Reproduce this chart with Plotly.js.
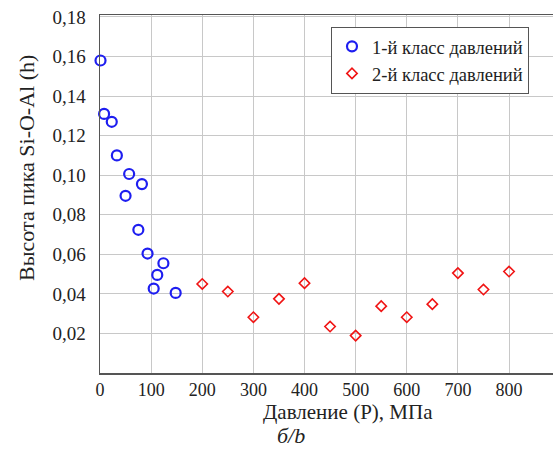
<!DOCTYPE html>
<html>
<head>
<meta charset="utf-8">
<script src="https://cdn.plot.ly/plotly-3.0.1.min.js"></script>
<style>html,body{margin:0;padding:0;background:#fff;}#chart{width:553px;height:450px;}</style>
</head>
<body>
<div id="chart"></div>
<script>
// Class 1 pressures (MPa) and peak heights
const class1Pressure = [1, 8, 23, 33, 50, 57, 75, 82, 93, 105, 112, 124, 148];
const class1Height   = [0.158, 0.131, 0.127, 0.110, 0.0896, 0.1006, 0.0724, 0.0955, 0.0604, 0.0427, 0.0496, 0.0555, 0.0405];
// Class 2 pressures (MPa) and peak heights
const class2Pressure = [200, 250, 300, 350, 400, 450, 500, 550, 600, 650, 700, 750, 800];
const class2Height   = [0.0450, 0.0412, 0.0282, 0.0375, 0.0454, 0.0235, 0.0189, 0.0338, 0.0282, 0.0348, 0.0505, 0.0422, 0.0513];

const seriesNames = ["1-й класс давлений", "2-й класс давлений"];
const xTickVals = [0, 100, 200, 300, 400, 500, 600, 700, 800];
const yTickVals = [0.02, 0.04, 0.06, 0.08, 0.10, 0.12, 0.14, 0.16, 0.18];
const xTitle = "Давление (Р), МПа";
const yTitle = "Высота пика Si-O-Al (h)";
const caption = "б/b";

const serif = "'Liberation Serif', 'Times New Roman', 'DejaVu Serif', serif";

const traces = [
  {
    x: class1Pressure, y: class1Height, name: seriesNames[0],
    type: "scatter", mode: "markers", cliponaxis: false,
    marker: {symbol: "circle-open", size: 10, color: "rgb(30,30,240)", line: {width: 2.2, color: "rgb(30,30,240)"}}
  },
  {
    x: class2Pressure, y: class2Height, name: seriesNames[1],
    type: "scatter", mode: "markers", cliponaxis: false,
    marker: {symbol: "diamond-open", size: 8, color: "rgb(240,20,20)", line: {width: 1.6, color: "rgb(240,20,20)"}}
  }
];

const layout = {
  width: 553, height: 450,
  margin: {l: 100, r: 0, t: 15, b: 77, pad: 0},
  paper_bgcolor: "#fff", plot_bgcolor: "#fff",
  separators: ", ",
  font: {family: serif, size: 19, color: "#222"},
  showlegend: true,
  legend: {
    x: 0.947, y: 0.967, xanchor: "right", yanchor: "top",
    bgcolor: "#fff", bordercolor: "#555", borderwidth: 1,
    font: {family: serif, size: 18.5, color: "#222"},
    itemwidth: 30, tracegroupgap: 0
  },
  xaxis: {
    range: [0, 886], tickvals: xTickVals, ticks: "", ticklabelstandoff: 0,
    showgrid: true, gridcolor: "#c8c8c8", gridwidth: 1,
    zeroline: false, showline: true, linecolor: "#555", linewidth: 1.5, mirror: true,
    tickfont: {family: serif, size: 18, color: "#222"}
  },
  yaxis: {
    range: [0, 0.181], tickvals: yTickVals, tickformat: ".2f", ticks: "", ticklabelstandoff: 9,
    showgrid: true, gridcolor: "#c8c8c8", gridwidth: 1,
    zeroline: false, showline: true, linecolor: "#555", linewidth: 1.5, mirror: false,
    tickfont: {family: serif, size: 19, color: "#222"}
  },
  annotations: [
    {text: yTitle, xref: "paper", yref: "paper", x: -0.161, y: 0.573, textangle: -90,
     showarrow: false, xanchor: "center", yanchor: "middle", font: {family: serif, size: 22, color: "#222"}},
    {text: xTitle, xref: "paper", yref: "paper", x: 0.547, y: -0.109,
     showarrow: false, xanchor: "center", yanchor: "middle", font: {family: serif, size: 21, color: "#222"}},
    {text: "<i>" + caption + "</i>", xref: "paper", yref: "paper", x: 0.4216, y: -0.1732,
     showarrow: false, xanchor: "center", yanchor: "middle", font: {family: serif, size: 22, color: "#222"}}
  ]
};

Plotly.newPlot("chart", traces, layout, {displayModeBar: false, staticPlot: true});
</script>
</body>
</html>
